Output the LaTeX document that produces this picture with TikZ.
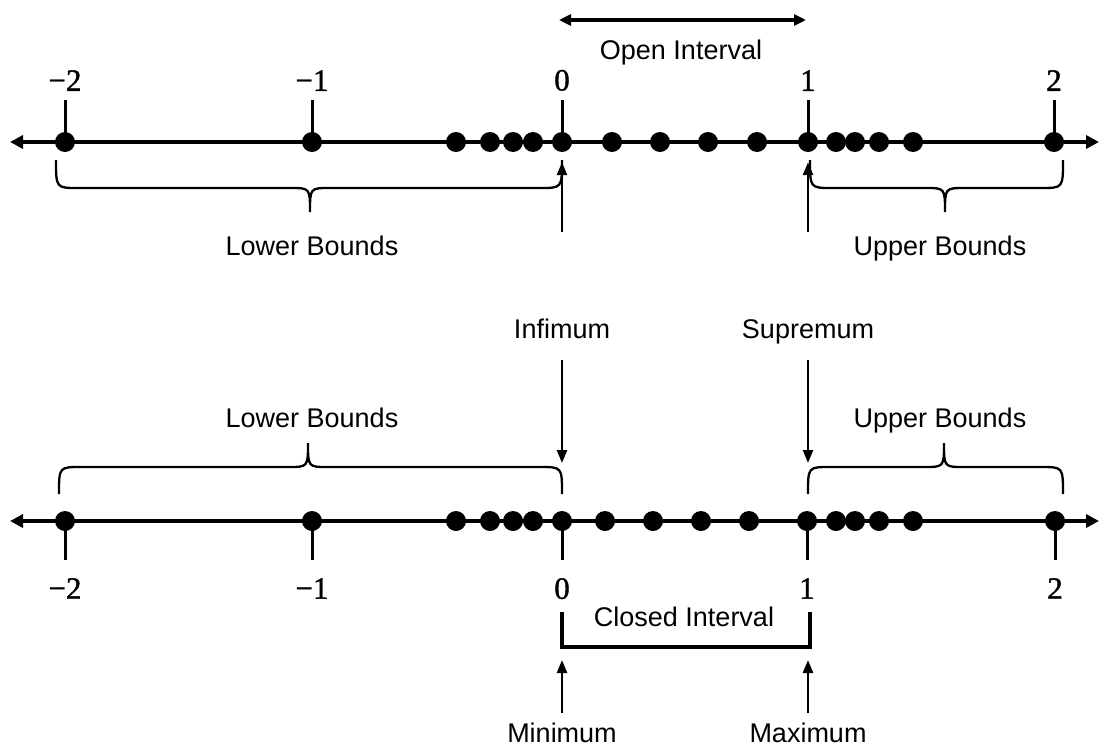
\documentclass[tikz,border=0pt]{standalone}
\usepackage{fontspec}
\setmainfont{Liberation Sans}
\newfontfamily\numfont[FakeBold=1.3]{Liberation Serif}
\usetikzlibrary{arrows.meta}
\newcommand{\mybrace}[6]{%
  \draw[brace] (#1,#4) .. controls (#1,#5) .. (#1+22,#5) -- (#3-20,#5)
    .. controls (#3,#5) .. (#3,#6) .. controls (#3,#5) .. (#3+20,#5)
    -- (#2-22,#5) .. controls (#2,#5) .. (#2,#4);}
\begin{document}
\begin{tikzpicture}[x=1pt,y=-1pt,
  dot/.style={circle,fill=black,inner sep=0pt,minimum size=20pt},
  axis/.style={line width=4pt,{Triangle[length=13pt,width=13pt]}-{Triangle[length=13pt,width=13pt]}},
  tickline/.style={line width=3pt},
  num/.style={font=\numfont\fontsize{31}{34}\selectfont,inner xsep=1pt,inner ysep=9pt},
  numb/.style={font=\numfont\fontsize{31}{34}\selectfont,inner xsep=1pt,inner ysep=18pt},
  lab/.style={font=\fontsize{27}{32}\selectfont,inner sep=0pt,anchor=base},
  brace/.style={line width=2.3pt},
  pointer/.style={line width=2.5pt,-{Triangle[length=13pt,width=10pt]}},
  dblarrow/.style={line width=3.5pt,{Triangle[length=12pt,width=11pt]}-{Triangle[length=12pt,width=11pt]}},
  bracket/.style={line width=3.5pt},
]
\useasboundingbox (0,0) rectangle (1100,747);
\fill[white] (0,0) rectangle (1100,747);

% ---------- top number line ----------
\coordinate (tL) at (10,142);
\coordinate (tR) at (1099,142);
\draw[axis] (tL) -- (tR);
\foreach \x/\n/\t in {65/tm2/{−2},312/tm1/{−1},562/t0/{0},808/t1/{1},1054/t2/{2}}{
  \node[dot] (\n) at (\x,142) {};
  \node[num,anchor=south] (l\n) at (\x,100) {\t};
  \draw[tickline] (\n.center) -- (l\n.south);
}
\foreach \x [count=\i] in {456,490,513,533,612,660,708,757,836,855,879,913}
  \node[dot] (ta\i) at (\x,142) {};

% open interval
\coordinate (oL) at (559,20);
\coordinate (oR) at (806,20);
\draw[dblarrow] (oL) -- (oR);
\node[lab] (open) at (681,59) {Open Interval};

% top braces
\mybrace{56}{562}{310}{160}{188}{212}
\mybrace{810}{1063}{945}{160}{188}{212}
\node[lab] (lbt) at (312,255) {Lower Bounds};
\node[lab] (ubt) at (940,255) {Upper Bounds};

% infimum / supremum
\node[lab] (inf) at (562,338) {Infimum};
\node[lab] (sup) at (808,338) {Supremum};
\coordinate (i1) at (562,232);
\coordinate (i2) at (562,360);
\coordinate (i3) at (562,463);
\coordinate (s1) at (808,232);
\coordinate (s2) at (808,360);
\coordinate (s3) at (808,463);
\draw[pointer,shorten >=10pt] (i1) -- (t0.south);
\draw[pointer,shorten >=10pt] (s1) -- (t1.south);
\draw[pointer] (i2) -- (i3);
\draw[pointer] (s2) -- (s3);

% bottom braces
\node[lab] (lbb) at (312,427) {Lower Bounds};
\node[lab] (ubb) at (940,427) {Upper Bounds};
\mybrace{59}{562}{308}{494}{467}{443}
\mybrace{808}{1063}{944}{494}{467}{443}

% ---------- bottom number line ----------
\coordinate (bL) at (10,521);
\coordinate (bR) at (1099,521);
\draw[axis] (bL) -- (bR);
\foreach \x/\n/\t in {65/bm2/{−2},312/bm1/{−1},562/b0/{0},807/b1/{1},1055/b2/{2}}{
  \node[dot] (\n) at (\x,521) {};
  \node[numb,anchor=north] (l\n) at (\x,560) {\t};
  \draw[tickline] (\n.center) -- (l\n.north);
}
\foreach \x [count=\i] in {456,490,513,533,605,653,701,749,836,855,879,913}
  \node[dot] (ba\i) at (\x,521) {};

% closed interval
\draw[bracket] (562,612) -- (562,647) -- (810,647) -- (810,612);
\node[lab] (closed) at (684,626) {Closed Interval};

% minimum / maximum
\coordinate (m1) at (562,713);
\coordinate (m2) at (562,660);
\coordinate (x1) at (808,713);
\coordinate (x2) at (808,660);
\draw[pointer] (m1) -- (m2);
\draw[pointer] (x1) -- (x2);
\node[lab] (mini) at (562,742) {Minimum};
\node[lab] (maxi) at (808,742) {Maximum};
\end{tikzpicture}
\end{document}
